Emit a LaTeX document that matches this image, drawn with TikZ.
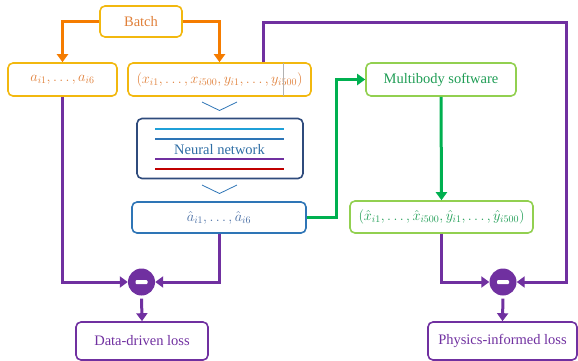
\documentclass[tikz,border=0pt]{standalone}
\usepackage{fontspec}
\setmainfont{Liberation Serif}
\usetikzlibrary{arrows.meta,calc}
\definecolor{orline}{HTML}{F57C00}
\definecolor{gold}{HTML}{F2B80F}
\definecolor{ortext}{HTML}{E0803A}
\definecolor{purp}{HTML}{7030A0}
\definecolor{navy}{HTML}{2F4B7C}
\definecolor{blu}{HTML}{2E75B6}
\definecolor{nntext}{HTML}{2E6DA4}
\definecolor{lblue}{HTML}{1FA0D8}
\definecolor{redl}{HTML}{C00000}
\definecolor{grn}{HTML}{00B050}
\definecolor{lgrn}{HTML}{92D050}
\definecolor{grtext}{HTML}{1F9D55}
\definecolor{ahtext}{HTML}{4A6FA5}
\tikzset{
  box/.style={draw, rounded corners=5pt, line width=1.6pt, inner sep=0pt, font=\fontsize{14.5}{16}\selectfont},
  mathf/.style={font=\fontsize{13.6}{16}\selectfont},
  goldbox/.style={box, draw=gold, text=ortext},
  greenbox/.style={box, draw=lgrn, text=grtext},
  purbox/.style={box, draw=purp, text=purp},
  tip/.style={-{Triangle[length=8pt,width=11pt]}},
  oarrow/.style={tip, draw=orline, line width=3pt},
  parrow/.style={tip, draw=purp, line width=3pt},
  garrow/.style={tip, draw=grn, line width=3pt},
  minus/.style={circle, fill=purp, minimum size=27pt, inner sep=0pt},
  chev/.style={draw=blu, line width=0.8pt},
}
\begin{document}
\begin{tikzpicture}[x=1pt,y=-1pt]
\useasboundingbox (0,0) rectangle (578,360);
% nodes
\node[goldbox, minimum width=82pt, minimum height=31pt] (batch) at (141,21.5) {Batch};
\node[goldbox, mathf, minimum width=109pt, minimum height=33pt] (a) at (62.5,79.5) {$a_{i1},\dots,a_{i6}$};
\node[goldbox, mathf, minimum width=183pt, minimum height=33pt] (x) at (219.5,79.5) {$(x_{i1},\dots,x_{i500},y_{i1},\dots,y_{i500})$};
\draw[gray!60, line width=0.6pt] ($(x.north)+(63.5,0.8)$) -- ($(x.south)+(63.5,-0.8)$);
\node[box, draw=navy, minimum width=166pt, minimum height=60pt] (nn) at (220,148.5) {};
\node[text=nntext, font=\fontsize{14.5}{16}\selectfont, inner sep=1pt] (nnt) at (219.5,149.5) {Neural network};
\draw[lblue, line width=1.5pt] (155,129) -- (284,129);
\draw[blu, line width=1.5pt] (155,139) -- (284,139);
\draw[purp, line width=1.5pt] (155,159) -- (284,159);
\draw[redl, line width=1.5pt] (155,169) -- (284,169);
\node[box, mathf, draw=blu, text=ahtext, minimum width=174pt, minimum height=31pt] (ahat) at (219,217.5) {$\hat{a}_{i1},\dots,\hat{a}_{i6}$};
\node[greenbox, minimum width=150pt, minimum height=33pt] (mb) at (441,79.5) {Multibody software};
\node[greenbox, mathf, minimum width=183pt, minimum height=32pt] (xhat) at (441.5,217) {$(\hat{x}_{i1},\dots,\hat{x}_{i500},\hat{y}_{i1},\dots,\hat{y}_{i500})$};
\node[minus] (m1) at (141.5,282) {};
\node[minus] (m2) at (503,282) {};
\fill[white, rounded corners=1pt] ($(m1)+(-6,-2)$) rectangle ($(m1)+(6,2)$);
\fill[white, rounded corners=1pt] ($(m2)+(-6,-2)$) rectangle ($(m2)+(6,2)$);
\node[purbox, minimum width=132pt, minimum height=38pt] (dd) at (142,341) {Data-driven loss};
\node[purbox, minimum width=149pt, minimum height=38pt] (pi) at (502.5,341) {Physics-informed loss};
% chevrons
\draw[chev] (202,102) -- (219.5,110.5) -- (237,102);
\draw[chev] (202,185) -- (219.5,193.5) -- (237,185);
% connectors
\draw[oarrow] (batch.west) -| (a.north);
\draw[oarrow] (batch.east) -| (x.north);
\coordinate (tr) at (566,22);
\draw[parrow] ([xshift=43.5pt]x.north) |- (tr) |- (m2.east);
\draw[parrow] (a.south) |- (m1.west);
\draw[parrow] (ahat.south) |- (m1.east);
\draw[parrow] (xhat.south) |- (m2.west);
\draw[parrow, shorten <=3pt] (m1.south) -- (dd.north);
\draw[parrow, shorten <=3pt] (m2.south) -- (pi.north);
\draw[garrow] (ahat.east) -- ++(30,0) |- (mb.west);
\draw[garrow] (mb.south) -- (xhat.north);
\end{tikzpicture}
\end{document}
